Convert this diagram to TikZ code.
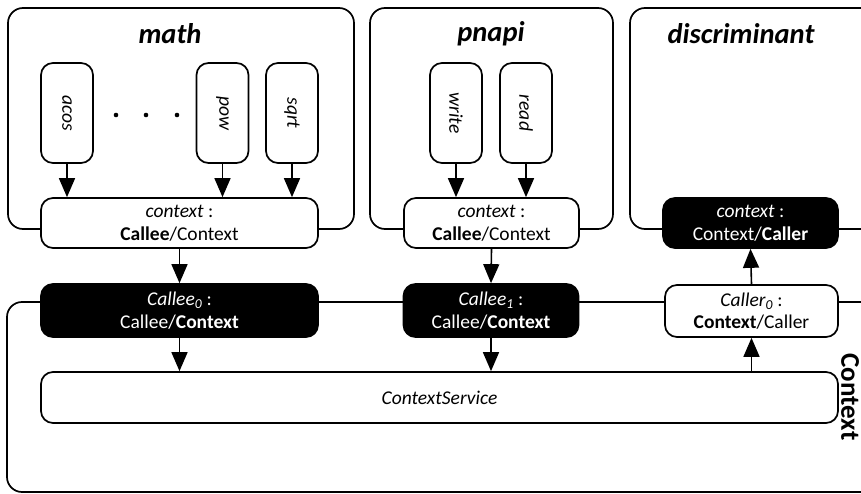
\documentclass[tikz,border=0pt]{standalone}
\usepackage{fontspec}
\setmainfont{Carlito}
\usetikzlibrary{arrows.meta}
\tikzset{
  grp/.style={draw, line width=1.7pt, rounded corners=15pt},
  fnbox/.style={draw, line width=1.7pt, rounded corners=12pt, minimum width=52pt,
    minimum height=100pt, inner sep=0pt, font=\fontsize{19.5}{22}\selectfont\itshape},
  whitebox/.style={draw, fill=white, line width=1.7pt, rounded corners=12pt,
    minimum height=50pt, inner sep=0pt, align=center, font=\fontsize{19.5}{22.5}\selectfont},
  blackbox/.style={draw, fill=black, text=white, line width=1.7pt, rounded corners=12pt,
    minimum height=53pt, inner sep=0pt, align=center, font=\fontsize{19.5}{22.5}\selectfont},
  title/.style={font=\fontsize{28.5}{32}\selectfont\bfseries\itshape},
  flow/.style={line width=1.6pt, -{Triangle[length=19pt,width=16pt]}},
}
\begin{document}
\begin{tikzpicture}[x=1pt,y=-1pt]
  \useasboundingbox (0,0) rectangle (861,494);
  \clip (0,0) rectangle (861,494);

  % component frames
  \draw[grp] (8,8) rectangle (354,229);
  \draw[grp] (370,8) rectangle (613,229);
  \draw[grp] (630,8) rectangle (900,229);
  \draw[grp] (7,302) rectangle (900,492);

  \node[title] (tmath) at (170,34) {math};
  \node[title] (tpnapi) at (491,34) {pnapi};
  \node[title] (tdisc) at (741,34) {discriminant};
  \node[font=\fontsize{27}{30}\selectfont\bfseries, rotate=-90] (tctx) at (850,397) {Context};

  % functions
  \node[fnbox] (acos) at (67,113) {\rotatebox{-90}{acos}};
  \node[fnbox] (pow) at (222.5,113) {\rotatebox{-90}{pow}};
  \node[fnbox] (sqrt) at (292,113) {\rotatebox{-90}{sqrt}};
  \node[fnbox] (write) at (456,113) {\rotatebox{-90}{write}};
  \node[fnbox] (read) at (526,113) {\rotatebox{-90}{read}};

  \fill (116,115) circle (2.3pt) (146,115) circle (2.3pt) (177,115) circle (2.3pt);

  % context interfaces
  \node[whitebox, minimum width=277pt] (ctxM) at (179.5,223) {\textit{context} :\\\textbf{Callee}/Context};
  \node[whitebox, minimum width=175pt] (ctxP) at (491.5,223) {\textit{context} :\\\textbf{Callee}/Context};
  \node[blackbox, minimum width=175pt, minimum height=50pt] (ctxD) at (750.5,223) {\textit{context} :\\Context/\textbf{Caller}};

  \node[blackbox, minimum width=277pt] (callee0) at (179.5,310.5) {\textit{Callee\textsubscript{0}} :\\Callee/\textbf{Context}};
  \node[blackbox, minimum width=175pt] (callee1) at (491,310.5) {\textit{Callee\textsubscript{1}} :\\Callee/\textbf{Context}};
  \node[whitebox, minimum width=173pt, minimum height=52pt] (caller0) at (751.5,311) {\textit{Caller\textsubscript{0}} :\\\textbf{Context}/Caller};

  \node[whitebox, minimum width=797pt, minimum height=51pt] (cs) at (439.5,397.5) {\textit{ContextService}};

  % calls
  \draw[flow] (acos.south) -- (acos.south |- ctxM.north);
  \draw[flow] (pow.south) -- (pow.south |- ctxM.north);
  \draw[flow] (sqrt.south) -- (sqrt.south |- ctxM.north);
  \draw[flow] (write.south) -- (write.south |- ctxP.north);
  \draw[flow] (read.south) -- (read.south |- ctxP.north);
  \draw[flow] (ctxM.south) -- (callee0.north);
  \draw[flow] (ctxP.south) -- (callee1.north);
  \draw[flow] (callee0.south) -- (callee0.south |- cs.north);
  \draw[flow] (callee1.south) -- (callee1.south |- cs.north);
  \draw[flow] (caller0.south |- cs.north) -- (caller0.south);
  \draw[flow] (caller0.north) -- (ctxD.south);
\end{tikzpicture}
\end{document}
